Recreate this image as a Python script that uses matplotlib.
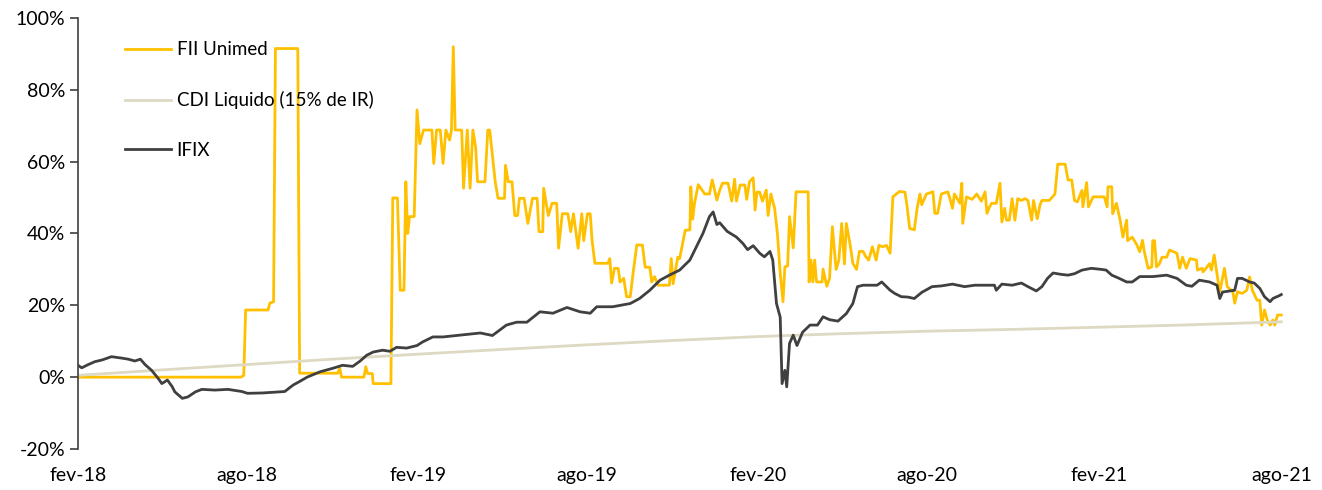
import matplotlib
matplotlib.use("Agg")
import matplotlib.pyplot as plt
import matplotlib.dates as mdates
import matplotlib.transforms as mtransforms
from matplotlib.ticker import FuncFormatter
import pandas as pd

# FII Unimed - cumulative return (%)
fii_dates = [
    "2018-02-01", "2018-07-26", "2018-07-29", "2018-07-31", "2018-08-24", "2018-08-26", "2018-08-30",
    "2018-09-01", "2018-09-25", "2018-09-27", "2018-11-07", "2018-11-09", "2018-11-11", "2018-12-05",
    "2018-12-07", "2018-12-09", "2018-12-14", "2018-12-15", "2019-01-03", "2019-01-05", "2019-01-10",
    "2019-01-13", "2019-01-17", "2019-01-19", "2019-01-21", "2019-01-23", "2019-01-28", "2019-01-31",
    "2019-02-03", "2019-02-07", "2019-02-16", "2019-02-18", "2019-02-21", "2019-02-25", "2019-02-28",
    "2019-03-03", "2019-03-07", "2019-03-09", "2019-03-11", "2019-03-13", "2019-03-20", "2019-03-22",
    "2019-03-26", "2019-03-29", "2019-04-01", "2019-04-04", "2019-04-06", "2019-04-14", "2019-04-17",
    "2019-04-19", "2019-04-21", "2019-04-25", "2019-04-28", "2019-05-05", "2019-05-06", "2019-05-09",
    "2019-05-13", "2019-05-16", "2019-05-19", "2019-05-21", "2019-05-26", "2019-05-30", "2019-06-04",
    "2019-06-09", "2019-06-11", "2019-06-15", "2019-06-16", "2019-06-21", "2019-06-25", "2019-06-30",
    "2019-07-02", "2019-07-06", "2019-07-12", "2019-07-15", "2019-07-18", "2019-07-23", "2019-07-27",
    "2019-07-29", "2019-08-02", "2019-08-05", "2019-08-07", "2019-08-10", "2019-08-24", "2019-08-26",
    "2019-08-28", "2019-08-31", "2019-09-04", "2019-09-06", "2019-09-10", "2019-09-13", "2019-09-17",
    "2019-09-20", "2019-09-24", "2019-09-30", "2019-10-03", "2019-10-08", "2019-10-10", "2019-10-13",
    "2019-10-17", "2019-10-29", "2019-10-31", "2019-11-02", "2019-11-07", "2019-11-09", "2019-11-15",
    "2019-11-20", "2019-11-21", "2019-11-23", "2019-11-25", "2019-11-29", "2019-12-06", "2019-12-11",
    "2019-12-14", "2019-12-19", "2019-12-22", "2019-12-25", "2019-12-31", "2020-01-04", "2020-01-07",
    "2020-01-09", "2020-01-13", "2020-01-18", "2020-01-20", "2020-01-23", "2020-01-27", "2020-01-29",
    "2020-01-31", "2020-02-03", "2020-02-06", "2020-02-10", "2020-02-12", "2020-02-15", "2020-02-19",
    "2020-02-22", "2020-02-25", "2020-02-28", "2020-03-01", "2020-03-04", "2020-03-06", "2020-03-10",
    "2020-03-13", "2020-03-26", "2020-03-27", "2020-03-29", "2020-03-31", "2020-04-02", "2020-04-04",
    "2020-04-10", "2020-04-11", "2020-04-15", "2020-04-18", "2020-04-21", "2020-04-25", "2020-04-28",
    "2020-05-01", "2020-05-04", "2020-05-06", "2020-05-10", "2020-05-13", "2020-05-17", "2020-05-20",
    "2020-05-24", "2020-05-27", "2020-05-30", "2020-06-03", "2020-06-07", "2020-06-10", "2020-06-14",
    "2020-06-18", "2020-06-22", "2020-06-25", "2020-07-02", "2020-07-08", "2020-07-10", "2020-07-13",
    "2020-07-18", "2020-07-21", "2020-07-24", "2020-07-26", "2020-07-31", "2020-08-07", "2020-08-09",
    "2020-08-12", "2020-08-16", "2020-08-23", "2020-08-26", "2020-08-28", "2020-08-30", "2020-09-05",
    "2020-09-07", "2020-09-08", "2020-09-12", "2020-09-18", "2020-09-23", "2020-09-28", "2020-10-02",
    "2020-10-04", "2020-10-07", "2020-10-09", "2020-10-14", "2020-10-18", "2020-10-20", "2020-10-23",
    "2020-10-25", "2020-10-28", "2020-10-31", "2020-11-03", "2020-11-06", "2020-11-10", "2020-11-14",
    "2020-11-17", "2020-11-21", "2020-11-23", "2020-11-27", "2020-11-30", "2020-12-02", "2020-12-10",
    "2020-12-16", "2020-12-19", "2020-12-27", "2020-12-30", "2021-01-03", "2021-01-06", "2021-01-09",
    "2021-01-14", "2021-01-15", "2021-01-19", "2021-01-21", "2021-01-26", "2021-02-07", "2021-02-10",
    "2021-02-11", "2021-02-15", "2021-02-16", "2021-02-20", "2021-02-24", "2021-02-27", "2021-03-03",
    "2021-03-04", "2021-03-09", "2021-03-14", "2021-03-17", "2021-03-20", "2021-03-22", "2021-03-26",
    "2021-03-30", "2021-03-31", "2021-04-02", "2021-04-04", "2021-04-07", "2021-04-10", "2021-04-15",
    "2021-04-18", "2021-04-26", "2021-04-29", "2021-05-02", "2021-05-06", "2021-05-10", "2021-05-17",
    "2021-05-18", "2021-05-23", "2021-05-24", "2021-05-31", "2021-06-02", "2021-06-05", "2021-06-09",
    "2021-06-11", "2021-06-16", "2021-06-19", "2021-06-25", "2021-06-27", "2021-06-30", "2021-07-05",
    "2021-07-10", "2021-07-13", "2021-07-16", "2021-07-21", "2021-07-24", "2021-07-26", "2021-07-29",
    "2021-08-01", "2021-08-04", "2021-08-07", "2021-08-09", "2021-08-12", "2021-08-16",
]
fii_values = [
    0, 0, 0.5, 18.7, 18.7, 20.6, 21,
    91.5, 91.5, 1.1, 1.1, 2.5, 0, 0,
    2.9, 1, 1, -1.8, -1.8, 49.9, 49.9,
    24.2, 24.2, 54.4, 40, 44.7, 44.7, 74.4,
    65, 68.8, 68.8, 59.5, 68.8, 68.8, 59.5,
    68.8, 66, 68.8, 92, 68.8, 68.8, 52.6,
    68.8, 52.6, 68.8, 64, 54.4, 54.4, 68.8,
    68.8, 64.1, 54.4, 49.8, 49.8, 59, 54.4,
    54.4, 45, 45, 49.8, 49.8, 42.8, 49.8,
    49.8, 40.5, 40.5, 52.6, 45, 48.4, 48.4,
    35.9, 45.5, 45.5, 40.5, 45.5, 35.9, 45.5,
    38, 45.5, 45.5, 38, 31.7, 31.7, 33,
    26.2, 30.3, 30.3, 26.5, 27.5, 22.4, 22.4,
    28.9, 36.8, 36.8, 30.6, 30.6, 26.5, 28,
    25.6, 25.6, 33, 26, 33.4, 33, 40.9,
    41, 53, 44, 48.4, 53.6, 51, 51,
    54.9, 49.3, 52, 54, 54, 49, 55.1,
    49, 53.5, 53.5, 49.5, 54.4, 55.5, 46.5,
    51.5, 51.5, 49, 52.1, 45, 51, 47,
    40, 28.9, 21, 30.7, 31, 44.7, 36,
    51.6, 51.6, 26.5, 32.6, 26.5, 32.6, 26.5,
    26.5, 30.1, 25.3, 27.5, 41.9, 30, 32.6,
    42.8, 31.5, 42.8, 37, 31.7, 30, 35,
    35, 33.5, 32.6, 36.3, 32.6, 36.7, 36.3,
    36.7, 34.5, 50.2, 51.7, 51.5, 48, 41.4,
    41, 47, 51, 48, 51, 51.6, 45.6,
    45.6, 51, 51.6, 49, 47, 51, 48.4,
    54, 42.8, 50.2, 49.5, 51, 49, 51.6,
    45.6, 47.5, 48.4, 48.4, 54, 43.2, 47,
    43.7, 43.7, 49.7, 43.7, 49.7, 49.2, 49.7,
    49.2, 43.7, 49.2, 44.1, 48, 49.2, 49.2,
    51, 59.3, 59.3, 54.9, 54.9, 49.2, 48.8,
    52, 47.4, 54.2, 47.4, 50.2, 50.2, 47.4,
    53, 53, 45.5, 48.4, 43.7, 39, 43.7,
    38, 39, 36.8, 34.9, 38.1, 34.9, 30.3,
    30.7, 38, 38, 30.7, 31.5, 33.4, 33.4,
    35.4, 34.5, 30.3, 33.4, 30.3, 33, 32.6,
    29.8, 30.3, 29.3, 31.6, 29.8, 34, 27,
    23.8, 30.3, 25.2, 23.8, 20.6, 23.8, 23.3,
    24.2, 27.9, 24.2, 21.4, 21.4, 14.5, 18.7,
    15.9, 14.5, 15.9, 14.5, 17.3, 17.3,
]

# IFIX - cumulative return (%)
ifix_dates = [
    "2018-02-01", "2018-02-05", "2018-02-12", "2018-02-19", "2018-02-27", "2018-03-09", "2018-03-20",
    "2018-03-27", "2018-04-03", "2018-04-09", "2018-04-14", "2018-04-21", "2018-04-28", "2018-05-02",
    "2018-05-08", "2018-05-13", "2018-05-16", "2018-05-24", "2018-05-30", "2018-06-07", "2018-06-14",
    "2018-06-28", "2018-07-12", "2018-07-27", "2018-08-02", "2018-08-18", "2018-08-31", "2018-09-11",
    "2018-09-20", "2018-09-27", "2018-10-05", "2018-10-19", "2018-11-02", "2018-11-12", "2018-11-23",
    "2018-12-01", "2018-12-08", "2018-12-15", "2018-12-25", "2019-01-02", "2019-01-09", "2019-01-20",
    "2019-01-31", "2019-02-06", "2019-02-17", "2019-02-28", "2019-03-11", "2019-03-26", "2019-04-09",
    "2019-04-22", "2019-05-07", "2019-05-18", "2019-05-29", "2019-06-12", "2019-06-26", "2019-07-11",
    "2019-07-25", "2019-08-05", "2019-08-12", "2019-08-29", "2019-09-17", "2019-09-27", "2019-10-08",
    "2019-10-19", "2019-10-29", "2019-11-09", "2019-11-20", "2019-11-27", "2019-12-04", "2019-12-11",
    "2019-12-15", "2019-12-19", "2019-12-22", "2019-12-30", "2020-01-09", "2020-01-16", "2020-01-21",
    "2020-01-27", "2020-02-03", "2020-02-08", "2020-02-14", "2020-02-17", "2020-02-21", "2020-02-25",
    "2020-02-27", "2020-03-01", "2020-03-03", "2020-03-06", "2020-03-10", "2020-03-14", "2020-03-20",
    "2020-03-28", "2020-04-05", "2020-04-11", "2020-04-18", "2020-04-27", "2020-05-06", "2020-05-13",
    "2020-05-18", "2020-05-24", "2020-05-31", "2020-06-08", "2020-06-13", "2020-06-22", "2020-06-27",
    "2020-07-04", "2020-07-11", "2020-07-18", "2020-07-26", "2020-08-06", "2020-08-16", "2020-08-28",
    "2020-09-10", "2020-09-21", "2020-10-12", "2020-10-14", "2020-10-20", "2020-10-31", "2020-11-10",
    "2020-11-17", "2020-11-26", "2020-12-02", "2020-12-08", "2020-12-14", "2020-12-23", "2020-12-30",
    "2021-01-06", "2021-01-14", "2021-01-24", "2021-02-04", "2021-02-09", "2021-02-15", "2021-02-23",
    "2021-03-03", "2021-03-09", "2021-03-17", "2021-03-31", "2021-04-15", "2021-04-26", "2021-05-06",
    "2021-05-12", "2021-05-20", "2021-05-31", "2021-06-08", "2021-06-11", "2021-06-14", "2021-06-22",
    "2021-06-27", "2021-06-30", "2021-07-05", "2021-07-13", "2021-07-18", "2021-07-24", "2021-07-29",
    "2021-08-04", "2021-08-07", "2021-08-14", "2021-08-16",
]
ifix_values = [
    3.3, 2.6, 3.5, 4.3, 4.8, 5.7, 5.3,
    5.0, 4.5, 5.0, 3.5, 1.9, -0.3, -1.8,
    -0.8, -2.6, -4.1, -5.9, -5.5, -4.1, -3.4,
    -3.6, -3.4, -4.0, -4.5, -4.4, -4.2, -4.0,
    -2.2, -1.2, 0, 1.5, 2.5, 3.3, 3.0,
    4.5, 6.1, 7.0, 7.5, 7.2, 8.3, 8.1,
    8.8, 9.8, 11.2, 11.2, 11.5, 11.9, 12.3,
    11.6, 14.5, 15.3, 15.3, 18.2, 17.8, 19.4,
    18.2, 17.8, 19.6, 19.6, 20.5, 21.9, 24.2,
    27.0, 28.4, 29.8, 32.6, 36.3, 40.0, 44.7,
    46.0, 42.5, 43.0, 40.6, 39.0, 37.2, 35.5,
    36.6, 34.5, 33.5, 35.0, 32.6, 20.5, 16.7,
    -1.8, 1.9, -2.7, 9.4, 11.7, 8.8, 12.5,
    14.5, 14.5, 16.8, 16.0, 15.6, 17.7, 20.5,
    25.2, 25.6, 25.6, 25.6, 26.5, 24.2, 23.3,
    22.4, 22.3, 21.9, 23.6, 25.2, 25.4, 25.9,
    25.2, 25.6, 25.6, 24.2, 25.9, 25.6, 26.2,
    25.2, 24.0, 25.2, 27.5, 29.0, 28.6, 28.4,
    28.8, 29.8, 30.3, 30.0, 29.8, 28.4, 27.5,
    26.5, 26.5, 28.0, 28.0, 28.4, 27.5, 25.6,
    25.3, 27.0, 26.5, 25.6, 21.9, 23.7, 24.0,
    24.2, 27.5, 27.5, 26.5, 26.2, 24.7, 22.4,
    21.0, 21.9, 22.7, 23.0,
]

# CDI liquido (15% de IR) - cumulative return (%)
cdi_dates = [
    "2018-02-01", "2018-05-01", "2018-08-01", "2018-11-01", "2019-02-01", "2019-05-01", "2019-08-01",
    "2019-11-01", "2020-02-01", "2020-05-01", "2020-08-01", "2020-11-01", "2021-02-01", "2021-05-01",
    "2021-08-16",
]
cdi_values = [0.5, 2.0, 3.5, 5.0, 6.4, 7.7, 9.0, 10.2, 11.3, 12.1, 12.8, 13.3, 13.9, 14.5, 15.4]

plt.rcParams['font.family'] = ['Lato', 'DejaVu Sans']

fig = plt.figure(figsize=(13.22, 4.9), dpi=100)
ax = fig.add_axes([0.059, 0.0837, 0.913, 0.8796])

ax.plot(pd.to_datetime(fii_dates), fii_values, color="#FFC000", lw=2.0, label="FII Unimed")
ax.plot(pd.to_datetime(cdi_dates), cdi_values, color="#DDD9C3", lw=2.0, label="CDI Liquido (15% de IR)")
ax.plot(pd.to_datetime(ifix_dates), ifix_values, color="#404040", lw=2.0, label="IFIX")

ax.set_xlim(pd.Timestamp("2018-02-01"), pd.Timestamp("2021-08-20"))
ax.set_ylim(-20, 100)
ax.set_yticks([-20, 0, 20, 40, 60, 80, 100])
ax.yaxis.set_major_formatter(FuncFormatter(lambda v, p: "%d%%" % v))

ax.xaxis.set_major_locator(mdates.MonthLocator(bymonth=[2, 8]))
meses = {2: "fev", 8: "ago"}
ax.xaxis.set_major_formatter(FuncFormatter(
    lambda v, p: meses[mdates.num2date(v).month] + "-" + mdates.num2date(v).strftime("%y")))

for side in ["top", "right", "bottom"]:
    ax.spines[side].set_visible(False)
ax.spines["left"].set_color("#404040")
ax.spines["left"].set_linewidth(1.2)
ax.tick_params(axis="y", direction="out", length=6, width=1.2, color="#404040", labelsize=14, pad=3)
ax.tick_params(axis="x", length=0, labelsize=14, pad=13)

# last label sits a bit to the right, like in the original sheet
fig.canvas.draw()
last = ax.get_xticklabels()[-1]
last.set_transform(last.get_transform() + mtransforms.ScaledTranslation(0.15, 0, fig.dpi_scale_trans))

ax.legend(loc="upper left", bbox_to_anchor=(0.025, 0.985), frameon=False, fontsize=13.5,
          handlelength=2.45, handletextpad=0.3, labelspacing=1.75)

fig.savefig("out.png", dpi=100)
